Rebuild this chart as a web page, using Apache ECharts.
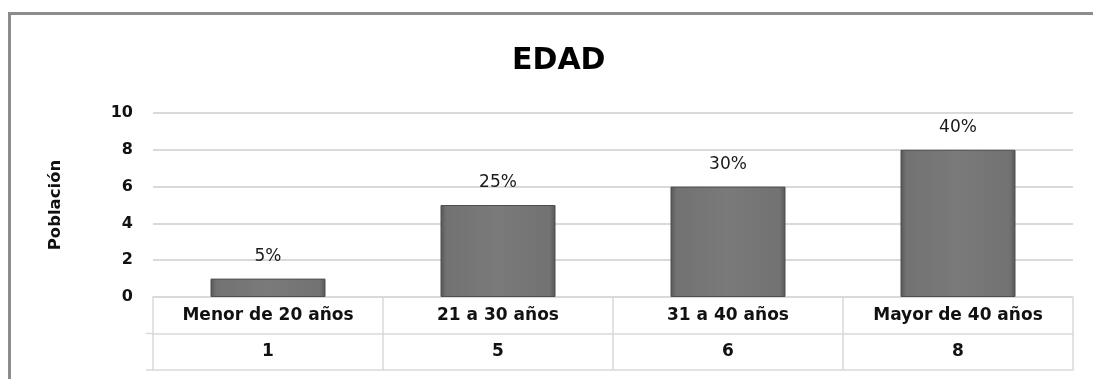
<!DOCTYPE html>
<html>
<head>
<meta charset="utf-8">
<script src="https://cdn.jsdelivr.net/npm/echarts@6/dist/echarts.min.js"></script>
<style>
  html, body { margin: 0; padding: 0; background: #fff; }
  #chart { width: 1093px; height: 379px; }
</style>
</head>
<body>
<div id="chart"></div>
<script>
// Age groups and head counts
const categories = ['Menor de 20 años', '21 a 30 años', '31 a 40 años', 'Mayor de 40 años'];
const counts = [1, 5, 6, 8];
const percentLabels = ['5%', '25%', '30%', '40%'];
const yTicks = [0, 2, 4, 6, 8, 10];

const FONT = '"DejaVu Sans", sans-serif';
const LINE = '#d9d9d9';

const chart = echarts.init(document.getElementById('chart'), null, { renderer: 'canvas' });

const gridLeft = 153, gridRight = 20, gridTop = 113, gridBottom = 82;
const rowH = 36.5;

chart.setOption({
  animation: false,
  title: {
    text: 'EDAD',
    left: 507,
    top: 41,
    textStyle: { fontFamily: FONT, fontWeight: 'bold', fontSize: 30, color: '#000' }
  },
  grid: { left: gridLeft, right: gridRight, top: gridTop, bottom: gridBottom, containLabel: false },
  xAxis: [
    {
      type: 'category',
      data: categories,
      position: 'bottom',
      axisLine: { show: true, lineStyle: { color: LINE, width: 1.5 } },
      axisTick: { show: true, length: rowH * 2, lineStyle: { color: LINE, width: 1.5 } },
      axisLabel: { margin: 10, fontFamily: FONT, fontWeight: 'bold', fontSize: 17, color: '#111' }
    },
    {
      type: 'category',
      data: counts.map(String),
      position: 'bottom',
      offset: rowH,
      axisLine: { show: true, lineStyle: { color: LINE, width: 1.5 } },
      axisTick: { show: false },
      axisLabel: { margin: 10, fontFamily: FONT, fontWeight: 'bold', fontSize: 17, color: '#111' }
    },
    {
      type: 'category',
      data: categories,
      position: 'bottom',
      offset: rowH * 2,
      axisLine: { show: true, lineStyle: { color: LINE, width: 1.5 } },
      axisTick: { show: false },
      axisLabel: { show: false }
    }
  ],
  yAxis: {
    type: 'value',
    min: yTicks[0],
    max: yTicks[yTicks.length - 1],
    interval: 2,
    name: 'Población',
    nameLocation: 'middle',
    nameRotate: 90,
    nameGap: 89,
    nameTextStyle: { fontFamily: FONT, fontWeight: 'bold', fontSize: 16.5, color: '#111' },
    axisLine: { show: false },
    axisTick: { show: false },
    axisLabel: { margin: 20, fontFamily: FONT, fontWeight: 'bold', fontSize: 16, color: '#111' },
    splitLine: { show: true, lineStyle: { color: LINE, width: 2 } }
  },
  series: [{
    type: 'bar',
    data: counts,
    xAxisIndex: 0,
    barWidth: '50%',
    itemStyle: {
      borderColor: '#4f4f4f',
      borderWidth: 1,
      color: new echarts.graphic.LinearGradient(0, 0, 1, 0, [
        { offset: 0, color: '#565656' },
        { offset: 0.05, color: '#727272' },
        { offset: 0.5, color: '#7a7a7a' },
        { offset: 0.95, color: '#727272' },
        { offset: 1, color: '#565656' }
      ])
    },
    label: {
      show: true,
      position: 'top',
      distance: 14,
      formatter: p => percentLabels[p.dataIndex],
      fontFamily: FONT,
      fontSize: 17,
      color: '#1a1a1a'
    }
  }],
  graphic: [
    // chart frame
    {
      type: 'rect',
      silent: true,
      shape: { x: 9.5, y: 13.5, width: 1200, height: 500 },
      style: { fill: 'none', stroke: '#8c8c8c', lineWidth: 3 }
    },
    // table rows extend slightly into the key column
    {
      type: 'line', silent: true,
      shape: { x1: 146, y1: 379 - gridBottom + rowH, x2: gridLeft, y2: 379 - gridBottom + rowH },
      style: { stroke: LINE, lineWidth: 1.5 }
    },
    {
      type: 'line', silent: true,
      shape: { x1: 146, y1: 379 - gridBottom + rowH * 2, x2: gridLeft, y2: 379 - gridBottom + rowH * 2 },
      style: { stroke: LINE, lineWidth: 1.5 }
    }
  ]
});
</script>
</body>
</html>
